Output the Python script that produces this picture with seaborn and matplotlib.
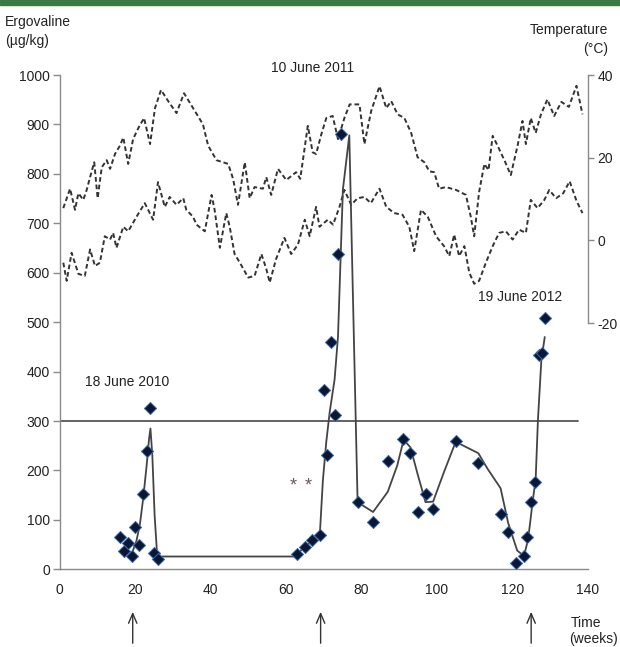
import matplotlib
matplotlib.use("Agg")
import matplotlib.pyplot as plt
import seaborn as sns
import numpy as np
import pandas as pd
from matplotlib.patches import Rectangle

# ergovaline measurements (ug/kg) by week
erg_weeks = [16.0, 17.1, 18.2, 19.3, 20.0, 21.1, 22.2, 23.1, 24.1, 25.1, 26.2,
             63.0, 65.0, 67.0, 69.0, 70.9, 70.1, 72.0, 73.1, 73.8, 74.6,
             79.0, 83.1, 87.1, 91.1, 93.0, 95.0, 97.0, 99.0, 105.0, 111.0,
             116.9, 118.9, 121.1, 123.1, 124.0, 124.9, 126.0, 127.0, 128.0, 128.7]
erg_values = [65, 38, 53, 28, 85, 49, 153, 240, 327, 33, 20,
              32, 46, 59, 70, 231, 362, 460, 312, 637, 880,
              136, 95, 219, 263, 235, 117, 152, 123, 259, 215,
              111, 76, 13, 27, 66, 136, 177, 434, 437, 508]

# smoothed trend line
fit_weeks = [19.0, 20.4, 21.3, 22.2, 23.1, 23.7, 24.1, 24.6, 25.2, 25.9, 62.4,
             63.0, 65.0, 67.0, 69.0, 69.8, 70.7, 71.6, 72.9, 73.8, 75.1, 76.8,
             79.0, 83.1, 87.0, 89.5, 91.2, 93.0, 95.0, 97.0, 99.0, 101.9, 105.0,
             111.0, 113.4, 116.9, 118.9, 121.3, 123.1, 124.2, 125.3, 126.2,
             126.8, 127.7, 128.6]
fit_values = [28, 58, 91, 145, 211, 262, 285, 230, 110, 26, 26,
              32, 45, 58, 72, 180, 258, 318, 384, 470, 768, 878,
              136, 116, 157, 210, 262, 247, 190, 136, 137, 197, 258,
              235, 204, 164, 94, 38, 27, 61, 131, 184,
              303, 423, 470]

threshold = 300
threshold_end = 137.5

# weekly max / min temperature (deg C)
tmax_weeks = [1.0, 2.8, 4.1, 5.0, 6.3, 7.2, 8.1, 9.2, 10.1, 11.2, 12.5, 13.4, 14.7,
              16.0, 16.9, 18.2, 19.5, 20.9, 22.4, 24.0, 25.3, 26.9, 28.8, 31.0,
              33.0, 35.4, 38.0, 39.4, 41.6, 44.7, 46.0, 47.3, 49.1, 50.4, 51.7,
              53.9, 54.8, 56.1, 57.9, 60.1, 62.7, 63.8, 65.8, 67.1, 68.0, 69.4,
              70.7, 72.4, 73.8, 75.5, 76.9, 79.5, 80.8, 82.6, 84.8, 86.6, 87.9,
              89.6, 91.4, 93.2, 94.9, 96.7, 98.0, 99.3, 100.6, 102.4, 105.1,
              107.7, 109.0, 109.9, 111.2, 112.6, 113.7, 114.8, 116.1, 117.9,
              119.6, 121.4, 122.7, 123.6, 124.9, 126.2, 127.6, 129.3, 131.1,
              133.0, 135.0, 137.0, 138.6]
tmax = [7.8, 12.5, 7.4, 11.4, 9.8, 12.2, 15.3, 18.9, 10.2, 17.7, 19.4, 17.3, 20.9,
        22.9, 24.9, 18.5, 24.5, 27.2, 29.6, 23.3, 32.0, 36.4, 33.7, 30.8,
        35.6, 32.0, 28.1, 22.9, 19.4, 18.5, 14.9, 8.6, 18.9, 10.2, 12.9,
        12.5, 15.3, 11.0, 17.3, 14.6, 16.5, 14.9, 27.7, 21.3, 20.9, 25.7,
        29.6, 30.1, 24.5, 29.6, 32.9, 32.9, 23.3, 31.3, 37.3, 32.0, 33.7,
        30.5, 29.6, 26.0, 20.1, 18.9, 16.7, 16.5, 12.5, 12.9, 12.2,
        11.0, 5.7, 1.0, 11.7, 18.5, 17.0, 25.3, 22.9, 19.4,
        15.8, 22.9, 28.9, 23.3, 29.6, 26.0, 30.5, 34.1, 30.1,
        33.5, 32.3, 37.4, 30.5]

tmin_weeks = [1.0, 1.9, 3.2, 5.0, 6.7, 8.1, 9.4, 10.7, 12.0, 13.4, 14.2, 15.1, 16.9,
              18.2, 20.4, 22.6, 24.8, 26.1, 27.9, 29.2, 31.0, 32.8, 33.6, 35.4,
              36.3, 38.5, 40.3, 41.1, 42.5, 44.2, 45.1, 46.4, 47.8, 50.0, 51.7,
              53.5, 54.8, 55.7, 57.4, 59.6, 61.4, 63.2, 65.0, 66.3, 68.0, 68.9,
              71.1, 72.5, 74.2, 75.5, 77.3, 79.0, 80.8, 82.5, 84.8, 86.6, 88.7,
              90.9, 92.7, 94.0, 95.8, 97.6, 99.8, 101.9, 103.3, 104.6, 105.9,
              107.3, 108.6, 109.9, 111.2, 113.0, 114.8, 116.5, 118.3, 120.1,
              121.8, 123.6, 124.9, 126.7, 128.5, 129.8, 131.6, 133.5, 135.2,
              137.0, 138.6]
tmin = [-5.4, -9.8, -3.0, -8.1, -8.6, -2.2, -6.2, -5.4, 1.0, 0.2, 1.8, -1.8, 3.3,
        2.2, 5.7, 9.0, 5.0, 14.1, 8.1, 10.5, 8.6, 10.2, 7.4, 5.7,
        3.8, 2.2, 11.0, 7.4, -1.8, 6.6, 3.3, -3.3, -5.4, -9.0, -8.6,
        -3.3, -6.9, -10.2, -4.5, 0.6, -3.3, -1.0, 5.0, 1.0, 8.1, 3.3,
        5.0, 3.8, 8.1, 12.2, 8.6, 10.2, 10.5, 9.0, 12.5, 8.1, 6.6,
        6.2, 3.3, -2.6, 7.4, 5.7, 1.0, -1.4, -3.8, 1.4, -3.8,
        -1.4, -7.8, -10.5, -9.8, -5.4, -1.4, 1.8, 2.2, 0.2,
        2.6, 1.8, 9.8, 7.8, 9.8, 12.2, 10.2, 11.4, 14.3,
        9.6, 6.6]

date_labels = ["18 June 2010", "10 June 2011", "19 June 2012"]
date_label_x = [18, 67, 122]
date_label_y = [379, 1015, 551]
arrow_weeks = [19.4, 69.2, 125.0]
star_weeks = [62.0, 66.0]
star_level = 169

sns.set_style("white")
plt.rcParams["font.family"] = ["Liberation Sans", "DejaVu Sans"]
plt.rcParams["axes.unicode_minus"] = False

spine_col = "#8a8a8a"
text_col = "#222222"

fig = plt.figure(figsize=(6.2, 6.47), dpi=100)
ax = fig.add_axes([0.096, 0.12, 0.852, 0.764])
ax2 = ax.twinx()

# temperature curves on the right axis
dash = (0, (2.4, 1.5))
sns.lineplot(x=tmax_weeks, y=tmax, ax=ax2, color="#333333", lw=1.4, linestyle=dash)
sns.lineplot(x=tmin_weeks, y=tmin, ax=ax2, color="#333333", lw=1.4, linestyle=dash)

# ergovaline
ax.axhline(threshold, xmin=0, xmax=threshold_end / 140, color="#555555", lw=1.3)
fit = pd.DataFrame({"week": fit_weeks, "erg": fit_values})
sns.lineplot(data=fit, x="week", y="erg", ax=ax, sort=False, estimator=None,
             color="#444444", lw=1.3)
sns.scatterplot(x=erg_weeks, y=erg_values, ax=ax, marker="D", s=38,
                color="#0a1633", edgecolor="#3a6aa8", linewidth=0.7, zorder=5)

for w in star_weeks:
    ax.text(w, star_level, "*", ha="center", va="center", fontsize=13,
            color="#6a5a55")

for lab, x, y in zip(date_labels, date_label_x, date_label_y):
    ax.text(x, y, lab, ha="center", va="center", fontsize=10, color=text_col,
            clip_on=False)

ax.set_zorder(ax2.get_zorder() + 1)
ax.patch.set_visible(False)

ax.set_xlim(0, 140)
ax.set_ylim(0, 1000)
ax2.set_ylim(-79.6, 40)
ax.set_xticks(np.arange(0, 141, 20))
ax.set_yticks(np.arange(0, 1001, 100))
ax2.set_yticks([-20, 0, 20, 40])
ax.set_xlabel("")
ax.set_ylabel("")
ax2.set_ylabel("")

for a in (ax, ax2):
    for s in a.spines.values():
        s.set_visible(False)
ax.spines["left"].set_visible(True)
ax.spines["bottom"].set_visible(True)
ax2.spines["right"].set_visible(True)
ax.spines["left"].set_bounds(0, 1000)
ax2.spines["right"].set_bounds(-20, 40)
for s in (ax.spines["left"], ax.spines["bottom"], ax2.spines["right"]):
    s.set_color(spine_col)
    s.set_linewidth(1.0)

ax.tick_params(axis="y", direction="out", length=5, width=1, color=spine_col,
               labelsize=10, labelcolor=text_col, pad=2)
ax.tick_params(axis="x", direction="inout", length=7, width=1, color=spine_col,
               labelsize=10, labelcolor=text_col, pad=6)
ax2.tick_params(axis="y", direction="out", length=4, width=1, color=spine_col,
                labelsize=10, labelcolor=text_col, pad=3)

# axis titles
fig.text(5 / 620, 1 - 22 / 647, "Ergovaline", fontsize=10, color=text_col, va="center")
fig.text(5 / 620, 1 - 41 / 647, "(\u00b5g/kg)", fontsize=10, color=text_col, va="center")
fig.text(608 / 620, 1 - 30 / 647, "Temperature", fontsize=10, color=text_col,
         va="center", ha="right")
fig.text(608 / 620, 1 - 49 / 647, "(\u00b0C)", fontsize=10, color=text_col,
         va="center", ha="right")
fig.text(571 / 620, 1 - 623 / 647, "Time", fontsize=10, color=text_col, va="center")
fig.text(569 / 620, 1 - 639 / 647, "(weeks)", fontsize=10, color=text_col, va="center")

# sampling-date arrows below the axis
for w in arrow_weeks:
    ax.annotate("", xy=(w, 1 - 609 / 647), xytext=(w, 1 - 646 / 647),
                xycoords=("data", "figure fraction"),
                textcoords=("data", "figure fraction"),
                arrowprops=dict(arrowstyle="->,head_length=0.7,head_width=0.3",
                                color="#333333", lw=1.0))

# green bar at top
fig.patches.append(Rectangle((0, 1 - 5 / 647), 1, 5 / 647, transform=fig.transFigure,
                             color="#3b7a45", zorder=0))

fig.savefig("out.png", dpi=100)
